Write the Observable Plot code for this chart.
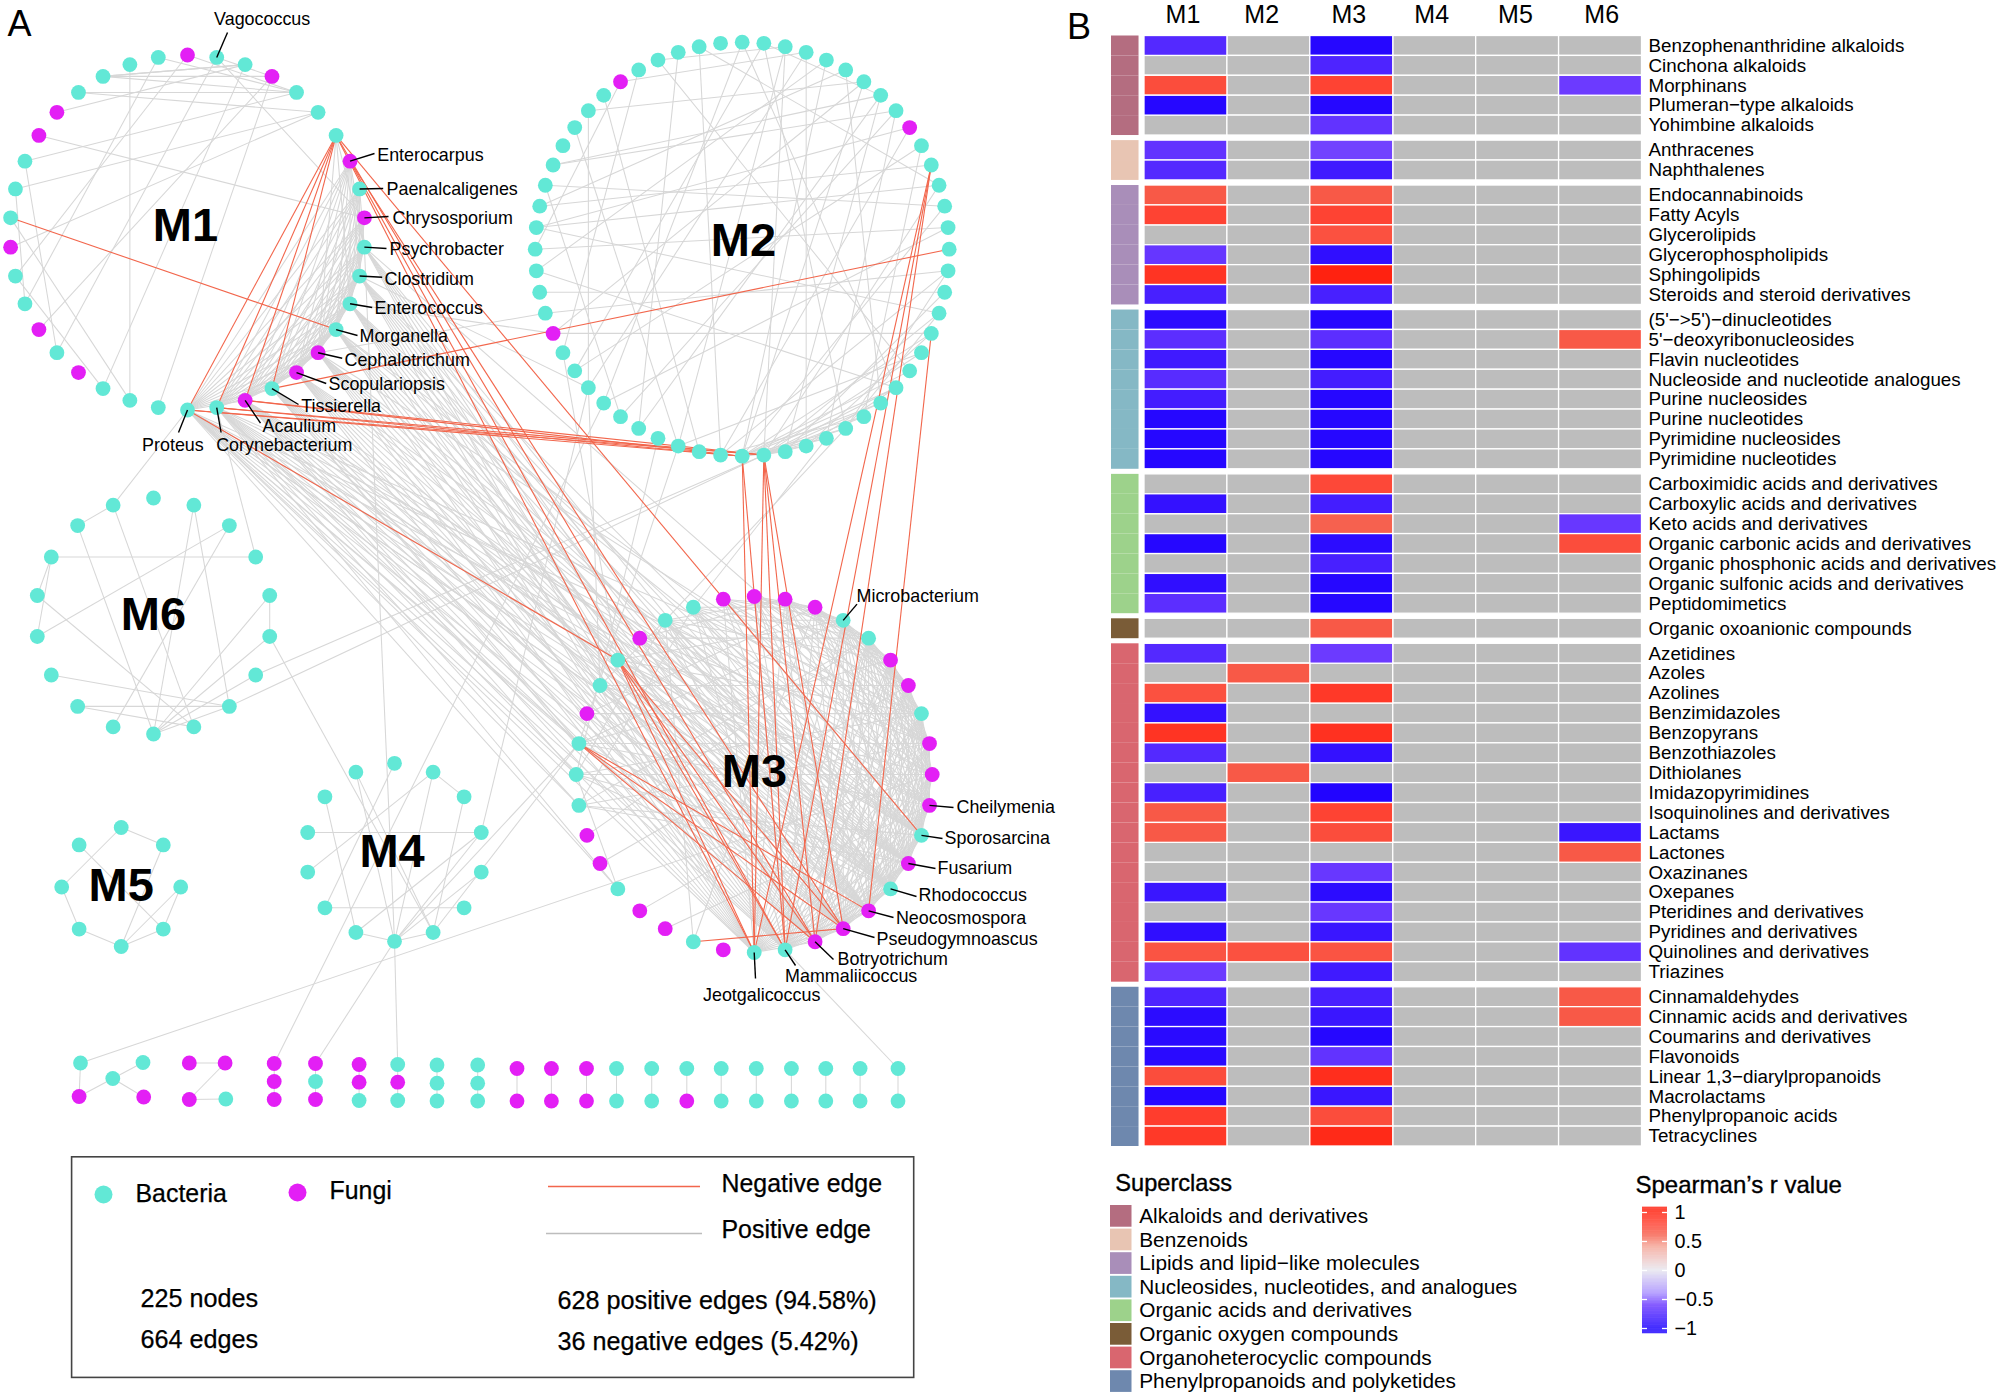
<!DOCTYPE html>
<html><head><meta charset="utf-8">
<script src="https://cdn.jsdelivr.net/npm/d3@7"></script>
<script src="https://cdn.jsdelivr.net/npm/@observablehq/plot@0.6"></script>
<style>
html,body{margin:0;padding:0;background:#fff}
#page{position:relative;width:2000px;height:1395px;overflow:hidden;background:#fff}
#page svg{position:absolute;overflow:visible;max-width:none!important;background:transparent}
</style></head><body><div id="page"></div>
<script>
const FONT = '"Liberation Sans", Arial, sans-serif';
const BACT = "#62e8d6", FUNG = "#e31ff5", POS = "#d7d7d7", NEG = "#f2664c";

// ---------- Panel A: modules laid out in a circle (clockwise from 12 o'clock)
const ringM1 = {name:"m1", n:38, cx:187, cy:232, r:177.5};
const ringM2 = {name:"m2", n:60, cx:741.7, cy:248.7, r:207};
const ringM3 = {name:"m3", n:36, cx:753.7, cy:774, r:178};
const ringM4 = {name:"m4", n:14, cx:394, cy:851.8, r:89};
const ringM5 = {name:"m5", n:8, cx:120.7, cy:886.5, r:59.5};
const ringM6 = {name:"m6", n:18, cx:153, cy:615.5, r:118};
const fungiM1 = [0,3,7,9,14,15,17,23,25,28,32,33];
const fungiM2 = [9,41,54];
const fungiM3 = [0,1,2,5,6,8,9,10,12,14,15,16,19,21,22,24,25,29,32,35];

// Small unlinked components along the bottom: id, x, y, kind
const stripNodes = [
 ["a0",80,1062.5,"B"],["a1",142.5,1062,"B"],["a2",112.3,1078,"B"],["a3",78.6,1096,"F"],["a4",143.2,1096.5,"F"],
 ["b0",188.8,1062.5,"F"],["b1",224.6,1062.5,"F"],["b2",188.8,1099,"F"],["b3",225.3,1098.5,"B"],
 ["c0",273.7,1063,"F"],["c1",273.7,1081,"F"],["c2",273.7,1099,"F"],
 ["d0",315,1063,"F"],["d1",315,1081,"B"],["d2",315,1099,"F"],
 ["e0",358.6,1064,"F"],["e1",358.6,1081.7,"F"],["e2",358.6,1100,"B"],
 ["f0",397.2,1064,"B"],["f1",397.2,1081.7,"F"],["f2",397.2,1100,"B"],
 ["g0",436.5,1064.5,"B"],["g1",436.5,1082.7,"B"],["g2",436.5,1100.5,"B"],
 ["h0",477.2,1064.5,"B"],["h1",477.2,1082.7,"B"],["h2",477.2,1100.5,"B"],
 ["i0",516.5,1068,"F"],["i1",516.5,1100.5,"F"],["j0",550.9,1068,"F"],["j1",550.9,1100.5,"F"],
 ["k0",586,1068,"F"],["k1",586,1100.5,"F"],["l0",616,1068,"B"],["l1",616,1100.5,"B"],
 ["n0",651.2,1068,"B"],["n1",651.2,1100.5,"B"],["o0",686.3,1068,"B"],["o1",686.3,1100.5,"F"],
 ["p0",720.7,1068,"B"],["p1",720.7,1100.5,"B"],["q0",755.8,1068,"B"],["q1",755.8,1100.5,"B"],
 ["r0",790.9,1068,"B"],["r1",790.9,1100.5,"B"],["s0",825.3,1068,"B"],["s1",825.3,1100.5,"B"],
 ["t0",859.6,1068,"B"],["t1",859.6,1100.5,"B"],["u0",897.5,1068,"B"],["u1",897.5,1100.5,"B"]
];

// Positive edges inside each module: node -> neighbours
const posM1 = {
 35:[4,3,2],34:[4,5],36:[21],37:[26,4],0:[27,4],1:[24,3,9],2:[22,35],3:[25],4:[31],
 5:[30,28],32:[9],33:[2],31:[24],30:[26],29:[21],27:[22],20:[3],
 6:[10,12,14],
 7:[10,11,12,13,14,15,16,17,18,19],8:[10,11,12,13,14,15,16,17,18,19],9:[11,12,13,14,15,16,17,18,19],
 10:[12,13,14,15,16,17,18,19],11:[13,14,15,16,17,18,19],12:[14,15,16,17,18,19],13:[15,16,17,18,19],
 14:[16,17,18,19],15:[17,18,19],16:[18,19],17:[19]
};
const posM2 = {
 0:[22,37],1:[39,7,25],2:[33,56,29],3:[38,54,27],4:[44,30],5:[47,23],6:[52,30,41],
 7:[35,49,28],8:[49,36,26],9:[46,31],10:[39,24],11:[47],12:[46,58,29],13:[48,30],
 14:[45,37],16:[42,31,25],17:[43,28],18:[46,29,25],19:[41,30,27],20:[29,33],21:[56,30],
 22:[30,29,27,44],23:[30,29],24:[31,29],25:[30,29],26:[30,29],27:[29,30],28:[30],
 31:[58],32:[53],33:[51],35:[57],36:[48],38:[52],40:[55],45:[54]
};
const posM3 = {
 33:[1,3,5,7,9,11,13,14,16],34:[2,4,6,8,10,12,13,15,17],35:[2,3,5,7,8,10,11,13,15,18],
 0:[2,3,4,6,7,9,10,12,13,14,16,17],1:[3,4,5,6,8,9,11,12,14,15,16,18],2:[4,5,6,7,8,10,11,12,13,15,17],
 3:[5,6,7,8,9,10,11,12,13,14,15,16,17,18],4:[6,7,8,9,10,11,12,13,14,15,16,17,18],
 5:[7,8,9,10,11,12,13,14,15,16,17,18],6:[8,9,10,11,12,13,14,15,16,17,18],7:[9,10,11,12,13,14,15,16,17,18],
 8:[10,11,12,13,14,15,16,17,18],9:[11,12,13,14,15,16,17,18],10:[12,13,14,15,16,17,18],
 11:[13,14,15,16,17,18],12:[14,15,16,17,18],13:[15,16,17,18],14:[16,17,18],15:[17,18],16:[18],
 26:[4,8,11,34,12],27:[7,9,12,33,14],28:[5,8,10,13,3],30:[6,9,12,14,33],31:[3,7,10,13,11],32:[4,8,11,13,1],
 29:[2,13,7],23:[27],24:[6],25:[4],22:[8],21:[10],20:[33,2]
};
const posM4 = {1:[2,10,7],11:[3],9:[5],13:[7,6],12:[8],2:[6],3:[8,7],7:[8,6,4],0:[9]};
const posM5 = {0:[1,6],7:[3],4:[1,2,5,3],6:[5],3:[2]};
const posM6 = {15:[3,14],16:[17,9],17:[8],1:[9,7],2:[13,10],14:[8],4:[5,9],5:[9],6:[9],7:[9,12,11],13:[15],8:[11]};
// M1 -> M3 bundle
const posM1M3 = {
 10:[13,14,15,16,17,18,8],11:[12,13,14,15,16,17,18,11],12:[11,12,13,14,15,16,17,18],13:[10,12,13,14,15,16,17,18,9],
 14:[11,12,13,14,15,16,17,18,8],15:[10,11,12,13,14,15,16,17,18],16:[11,12,13,14,15,16,17,18,28],
 17:[10,11,12,13,14,15,16,17,18,27],18:[11,12,13,14,15,16,17,18,26,28,23,9,7],19:[11,12,13,14,15,16,17,18,27,28,26,13,10,8,23]
};
// Other links between modules and to the strip: [from, to]
const posLinks = [
 ["a0","m3:9"],["u0","m3:17"],["c0","m2:37"],["d0","m4:7"],["f0","m4:7"],["m6:5","m4:6"],["m1:10","m4:7"],
 ["m4:7","m3:28"],["m4:6","m3:28"],["m4:3","m2:38"],["m6:7","m2:29"],["m6:6","m2:29"],["m6:17","m1:19"],["m6:3","m1:18"],
 ["m2:26","m3:34"],["m2:25","m3:33"],["m2:38","m3:30"],["m2:40","m3:31"],["m2:33","m3:28"],["m2:34","m3:27"],
 ["m1:14","m2:42"],["m1:12","m2:41"],["m1:11","m2:38"],
 ["a0","a3"],["a2","a1"],["a2","a3"],["a2","a4"],["b0","b1"],["b1","b2"],["b2","b3"],
 ["c0","c1"],["c1","c2"],["d0","d1"],["d1","d2"],["e0","e1"],["e1","e2"],["f0","f1"],["f1","f2"],["g0","g1"],["g1","g2"],["h0","h1"],["h1","h2"],
 ["i0","i1"],["j0","j1"],["k0","k1"],["l0","l1"],["n0","n1"],["o0","o1"],["p0","p1"],["q0","q1"],["r0","r1"],["s0","s1"],["t0","t1"],["u0","u1"]
];
// The 36 negative edges
const negLinks = [
 ["m1:29","m1:13"],["m1:6","m1:19"],["m1:6","m1:18"],["m1:6","m1:17"],["m1:6","m1:16"],
 ["m1:16","m2:15"],["m1:17","m2:30"],["m1:17","m2:29"],["m1:19","m2:30"],["m1:19","m2:29"],["m1:18","m2:30"],["m1:18","m2:29"],
 ["m1:6","m3:11"],["m1:6","m3:16"],["m1:7","m3:15"],["m1:7","m3:17"],["m1:6","m3:18"],["m1:19","m3:31"],
 ["m3:31","m3:18"],["m3:31","m3:17"],["m3:31","m3:16"],["m3:31","m3:15"],["m3:28","m3:16"],["m3:28","m3:15"],["m3:28","m3:14"],["m3:20","m3:15"],
 ["m2:30","m3:18"],["m2:30","m3:17"],["m2:29","m3:18"],["m2:29","m3:17"],["m2:29","m3:16"],["m2:29","m3:15"],
 ["m2:11","m3:18"],["m2:11","m3:17"],["m2:11","m3:16"],["m2:19","m3:14"]
];
// Named taxa: node, label, label x/y, leader end x/y
const taxa = [
 ["m1:1","Vagococcus",213.6,19,227,32],["m1:7","Enterocarpus",376.7,155,374,153],["m1:8","Paenalcaligenes",386,189,382.7,188],
 ["m1:9","Chrysosporium",392,218,388,216],["m1:10","Psychrobacter",389,249,386,248],["m1:11","Clostridium",384,279,381.7,276.7],
 ["m1:12","Enterococcus",374,308,371.7,307],["m1:13","Morganella",359,336,357,335],["m1:14","Cephalotrichum",344,360,341.7,357.7],
 ["m1:15","Scopulariopsis",328,384,325.7,383],["m1:16","Tissierella",300.7,405.7,298,404],["m1:17","Acaulium",262,425.7,260,422.7],
 ["m1:18","Corynebacterium",215.7,445,220.6,432],["m1:19","Proteus",141.6,445,178,432],
 ["m3:3","Microbacterium",856,596,856.5,603.6],["m3:10","Cheilymenia",956,807,953,807],["m3:11","Sporosarcina",944,838,942,838],
 ["m3:12","Fusarium",937,868,935,868],["m3:13","Rhodococcus",918,895,916,896],["m3:14","Neocosmospora",895.4,918,893,917],
 ["m3:15","Pseudogymnoascus",876,939,874,937],["m3:16","Botryotrichum",837,958.5,833,959],["m3:17","Mammaliicoccus",784.6,976,795,965],
 ["m3:18","Jeotgalicoccus",702.5,994.5,755,978]
];
const moduleNames = [["M1",185,225.5],["M2",743,240],["M3",754,771],["M4",391.6,851],["M5",120.7,885.5],["M6",153,614]];

// ---------- Panel B: heatmap
const superclasses = ["Alkaloids and derivatives","Benzenoids","Lipids and lipid\u2212like molecules","Nucleosides, nucleotides, and analogues","Organic acids and derivatives","Organic oxygen compounds","Organoheterocyclic compounds","Phenylpropanoids and polyketides"];
const superColors = ["#b46d80","#e8c5b3","#a98eb9","#85b8c5","#9dd28b","#7a5c37","#d9666f","#6e88ae"];
const superCounts = [5,2,6,8,7,1,17,8];
const rowNames = ["Benzophenanthridine alkaloids","Cinchona alkaloids","Morphinans","Plumeran\u2212type alkaloids","Yohimbine alkaloids",
 "Anthracenes","Naphthalenes",
 "Endocannabinoids","Fatty Acyls","Glycerolipids","Glycerophospholipids","Sphingolipids","Steroids and steroid derivatives",
 "(5'\u2212>5')\u2212dinucleotides","5'\u2212deoxyribonucleosides","Flavin nucleotides","Nucleoside and nucleotide analogues","Purine nucleosides","Purine nucleotides","Pyrimidine nucleosides","Pyrimidine nucleotides",
 "Carboximidic acids and derivatives","Carboxylic acids and derivatives","Keto acids and derivatives","Organic carbonic acids and derivatives","Organic phosphonic acids and derivatives","Organic sulfonic acids and derivatives","Peptidomimetics",
 "Organic oxoanionic compounds",
 "Azetidines","Azoles","Azolines","Benzimidazoles","Benzopyrans","Benzothiazoles","Dithiolanes","Imidazopyrimidines","Isoquinolines and derivatives","Lactams","Lactones","Oxazinanes","Oxepanes","Pteridines and derivatives","Pyridines and derivatives","Quinolines and derivatives","Triazines",
 "Cinnamaldehydes","Cinnamic acids and derivatives","Coumarins and derivatives","Flavonoids","Linear 1,3\u2212diarylpropanoids","Macrolactams","Phenylpropanoic acids","Tetracyclines"];
const moduleCols = ["M1","M2","M3","M4","M5","M6"];
const headerNudge = [0,-.05,0,0,.01,.05];
const _ = null;
const rM1 = [-.72,_,.72,-.95,_, -.65,-.72, .65,.78,_,-.63,.88,-.78, -.92,-.68,-.82,-.7,-.8,-.95,-.95,-.95, _,-.88,_,-.95,_,-.9,-.68, _, -.72,_,.7,-.88,.88,-.72,_,-.78,.65,.65,_,_,-.85,_,-.9,.68,-.6, -.75,-.92,-.93,-.93,.72,-.95,.82,.85];
const rM2 = [_,_,_,_,_, _,_, _,_,_,_,_,_, _,_,_,_,_,_,_,_, _,_,_,_,_,_,_, _, _,.65,_,_,_,_,.65,_,_,_,_,_,_,_,_,.7,_, _,_,_,_,_,_,_,_];
const rM3 = [-.95,-.75,.78,-.95,-.65, -.58,-.82, .65,.78,.7,-.9,1,-.78, -.95,-.68,-.95,-.8,-.95,-.95,-.95,-.95, .75,-.8,.6,-.92,-.78,-.95,-.95, .65, -.6,_,.85,_,.9,-.88,_,-.97,.78,.72,_,-.62,-.92,-.62,-.85,.68,-.82, -.78,-.85,-.95,-.65,.92,-.85,.72,.95];
const rM6 = [_,_,-.6,_,_, _,_, _,_,_,_,_,_, _,.65,_,_,_,_,_,_, _,_,-.62,.72,_,_,_, _, _,_,_,_,_,_,_,_,_,-.85,.65,_,_,_,_,-.65,_, .65,.65,_,_,_,_,_,_];
const rColumns = [rM1,rM2,rM3,rM3.map(()=>_),rM3.map(()=>_),rM6];
const rBreaks = [-1,-.6,-.4,0,.4,.6,.8,1];
const rColors = ["#1c00ff","#6c3aff","#a88fff","#e8e6ee","#f5a698","#f6614f","#ff4030","#ff2210"];
const rTicks = [1,.5,0,-.5,-1];

// ---------- Panel A assembly
const place = (svg,left,top)=>{svg.style.left=left+"px";svg.style.top=top+"px";document.getElementById("page").append(svg);};
const ringNodes = (ring,fungi=[])=>d3.range(ring.n).map(i=>{
  const a = -Math.PI/2 + i*2*Math.PI/ring.n;
  return {id:`${ring.name}:${i}`,x:ring.cx+ring.r*Math.cos(a),y:ring.cy+ring.r*Math.sin(a),kind:fungi.includes(i)?"F":"B"};
});
const nodes = [...ringNodes(ringM1,fungiM1),...ringNodes(ringM2,fungiM2),...ringNodes(ringM3,fungiM3),...ringNodes(ringM4),...ringNodes(ringM5),...ringNodes(ringM6),
  ...stripNodes.map(([id,x,y,kind])=>({id,x,y,kind}))];
const byId = new Map(nodes.map(d=>[d.id,d]));
const adj = (a,b,t)=>Object.entries(t).flatMap(([s,ts])=>ts.map(v=>[`${a}:${s}`,`${b}:${v}`]));
const seg = l=>l.map(([s,t])=>({a:byId.get(s),b:byId.get(t)}));
const positive = seg([...adj("m1","m1",posM1),...adj("m2","m2",posM2),...adj("m3","m3",posM3),...adj("m4","m4",posM4),...adj("m5","m5",posM5),...adj("m6","m6",posM6),...adj("m1","m3",posM1M3),...posLinks]);
const negative = seg(negLinks);
const labelRows = taxa.map(([id,label,tx,ty,lx,ly])=>({n:byId.get(id),label,tx,ty,lx,ly}));
const link = (data,o)=>Plot.link(data,{x1:d=>d.a.x,y1:d=>d.a.y,x2:d=>d.b.x,y2:d=>d.b.y,...o});
const txt = (rows,o)=>Plot.text(rows,{x:d=>d[1],y:d=>d[2],text:d=>d[0],fill:"#000",...o});

const legendText = [["Bacteria",135,1194],["Fungi",329,1191],["Negative edge",721,1184],["Positive edge",721,1230]];
const legendStats = [["225 nodes",140,1298],["664 edges",140,1339],["628 positive edges (94.58%)",557,1300],["36 negative edges (5.42%)",557,1341.5]];

place(Plot.plot({
  width:1060,height:1395,margin:0,
  x:{domain:[0,1060],range:[0,1060],axis:null},
  y:{domain:[0,1395],range:[0,1395],axis:null},
  style:{fontFamily:FONT,background:"transparent"},
  marks:[
    link(positive,{stroke:POS,strokeWidth:1.05}),
    link(negative,{stroke:NEG,strokeWidth:1.1}),
    Plot.dot(nodes.filter(d=>d.kind==="B"),{x:"x",y:"y",r:7.4,fill:BACT}),
    Plot.dot(nodes.filter(d=>d.kind==="F"),{x:"x",y:"y",r:7.4,fill:FUNG}),
    Plot.link(labelRows,{x1:d=>d.n.x,y1:d=>d.n.y,x2:"lx",y2:"ly",stroke:"#000",strokeWidth:1.4}),
    Plot.text(labelRows,{x:"tx",y:"ty",text:"label",textAnchor:"start",fontSize:17.9,fill:"#000"}),
    txt(moduleNames,{fontSize:47,fontWeight:700}),
    txt([["A",19,24]],{fontSize:36}),
    Plot.rect([{x1:71.6,x2:913.7,y1:1156.8,y2:1377.4}],{x1:"x1",x2:"x2",y1:"y1",y2:"y2",fill:"none",stroke:"#444",strokeWidth:1.6}),
    Plot.dot([{x:103,y:1194}],{x:"x",y:"y",r:9,fill:BACT}),
    Plot.dot([{x:297,y:1192}],{x:"x",y:"y",r:9,fill:FUNG}),
    Plot.ruleY([1186],{x1:548,x2:700,stroke:NEG,strokeWidth:1.6}),
    Plot.ruleY([1233],{x1:546,x2:702,stroke:"#bdbdbd",strokeWidth:1.6}),
    txt(legendText,{textAnchor:"start",fontSize:24.9,stroke:"#000",strokeWidth:.25}),
    txt(legendStats,{textAnchor:"start",fontSize:25.2,stroke:"#000",strokeWidth:.25})
  ]
}),0,0);

// ---------- Heatmap
let rowPos = 0; const rows = []; const GAP = 0.256;
superCounts.forEach((count,g)=>{ for(let k=0;k<count;k++){ rows.push({name:rowNames[rows.length],pos:rowPos,group:g}); rowPos+=1; } rowPos+=GAP; });
const totalRows = rowPos-GAP;
const cells = rows.flatMap((row,i)=>moduleCols.map((col,c)=>({c,pos:row.pos,r:rColumns[c][i]})));
place(Plot.plot({
  width:940,height:1160,margin:0,
  x:{domain:[0,6],range:[84,581.5],axis:null},
  y:{domain:[0,totalRows],range:[35.5,1146],axis:null},
  color:{type:"linear",domain:rBreaks,range:rColors,interpolate:"rgb",clamp:true},
  style:{fontFamily:FONT,background:"transparent"},
  marks:[
    Plot.rect(rows,{x1:-.398,x2:-.066,y1:"pos",y2:d=>d.pos+1,fill:d=>superColors[d.group]}),
    Plot.rect(cells,{x1:"c",x2:d=>d.c+1,y1:"pos",y2:d=>d.pos+1,fill:"#bdbdbd",stroke:"#fff",strokeWidth:1.3}),
    Plot.rect(cells.filter(d=>d.r!==null),{x1:"c",x2:d=>d.c+1,y1:"pos",y2:d=>d.pos+1,fill:"r",stroke:"#fff",strokeWidth:1.3}),
    Plot.text(rows,{x:6,y:d=>d.pos+.49,text:"name",textAnchor:"start",dx:6.5,fontSize:18.8,fill:"#000"}),
    Plot.text(moduleCols,{x:(d,i)=>i+.5+headerNudge[i],y:-1.06,text:d=>d,dx:-3,fontSize:25,fill:"#000"}),
    Plot.text(["B"],{x:-.79,y:-.45,text:d=>d,fontSize:36,fill:"#000"})
  ]
}),1060,0);

// ---------- Superclass legend
const legendRows = superclasses.map((name,i)=>({name,i,color:superColors[i]}));
place(Plot.plot({
  width:460,height:240,margin:0,
  x:{domain:[0,460],range:[0,460],axis:null},
  y:{domain:[0,8],range:[45,233.8],axis:null},
  style:{fontFamily:FONT,background:"transparent"},
  marks:[
    Plot.rect(legendRows,{x1:0,x2:21.5,y1:"i",y2:d=>d.i+.92,fill:"color"}),
    Plot.text(legendRows,{x:28.7,y:d=>d.i+.46,text:"name",textAnchor:"start",fontSize:20.8,fill:"#000"}),
    Plot.text(["Superclass"],{x:4.8,y:-.95,text:d=>d,textAnchor:"start",fontSize:23.6,fill:"#000",stroke:"#000",strokeWidth:.35})
  ]
}),1110,1160);

// ---------- Colour bar
const ramp = d3.range(-1.09,1.09,0.01);
place(Plot.plot({
  width:300,height:180,margin:0,
  x:{domain:[0,300],range:[0,300],axis:null},
  y:{domain:[1,-1],range:[52,168],axis:null},
  color:{type:"linear",domain:rBreaks,range:rColors,interpolate:"rgb",clamp:true},
  style:{fontFamily:FONT,background:"transparent"},
  marks:[
    Plot.rect(ramp,{x1:0,x2:25,y1:d=>d,y2:d=>d+.0115,fill:d=>d}),
    Plot.ruleY(rTicks,{x1:0,x2:5,stroke:"#fff",strokeWidth:1.3}),
    Plot.ruleY(rTicks,{x1:20,x2:25,stroke:"#fff",strokeWidth:1.3}),
    Plot.text(rTicks,{x:32,y:d=>d,text:d=>String(d).replace("-","\u2212"),textAnchor:"start",fontSize:19.8,fill:"#000"}),
    Plot.text(["Spearman\u2019s r value"],{x:-7,y:1.466,text:d=>d,textAnchor:"start",fontSize:24,fill:"#000",stroke:"#000",strokeWidth:.35})
  ]
}),1642,1160);
</script></body></html>
